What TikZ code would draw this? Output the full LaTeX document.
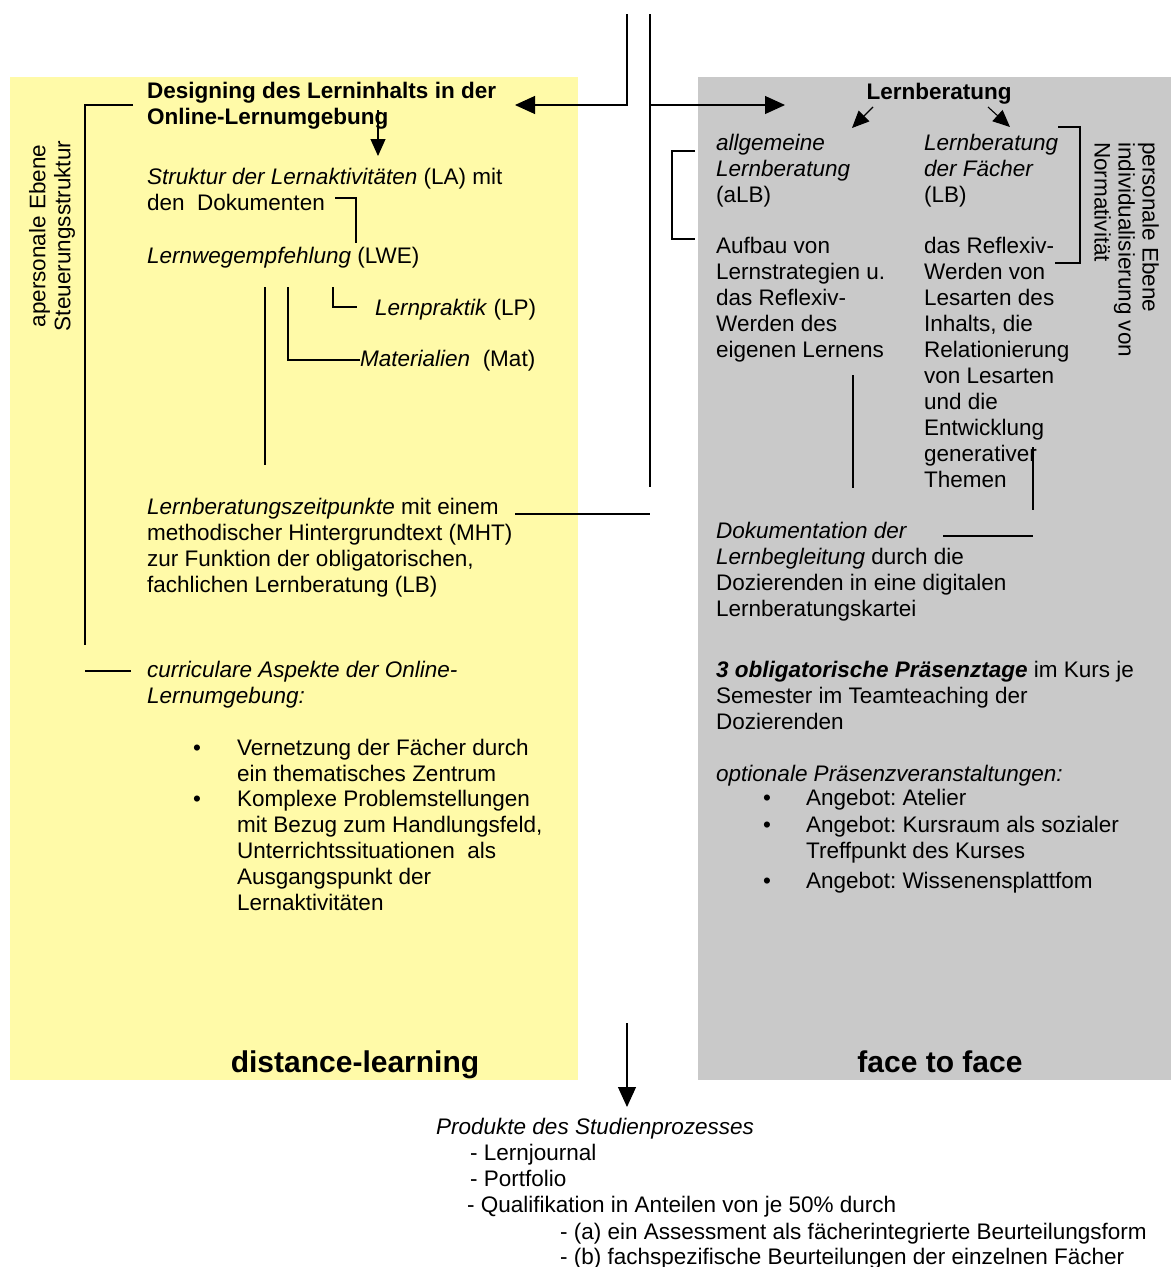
\documentclass[tikz,border=0pt]{standalone}
\usepackage{fontspec}
\setmainfont{Liberation Sans}
\usetikzlibrary{arrows.meta}
\definecolor{dlyellow}{RGB}{255,250,168}
\definecolor{ffgray}{RGB}{201,201,201}
% a left-aligned block of lines whose baseline is that of its first line
\newcommand{\txtblock}[1]{\begin{tabular}[t]{@{}l@{}}#1\end{tabular}}
\frenchspacing
\begin{document}
\begin{tikzpicture}[x=1pt,y=-1pt,
  txt/.style={anchor=base west, inner sep=0pt,
              font=\fontsize{22.5}{26}\selectfont},
  ctr/.style={anchor=base, inner sep=0pt, font=\fontsize{22.5}{26}\selectfont\bfseries},
  big/.style={anchor=base, inner sep=0pt, font=\fontsize{30}{34}\selectfont\bfseries},
  bul/.style={anchor=base, inner sep=0pt, font=\fontsize{22.5}{26}\selectfont},
  ln/.style={line width=1.1pt},
  arr/.style={ln, -{Triangle[length=20pt,width=18pt]}},
  sarr/.style={ln, -{Triangle[length=17pt,width=15pt]}}]
\useasboundingbox (0,0) rectangle (1171,1267);
\fill[white] (0,0) rectangle (1171,1267);

% the two working areas
\fill[dlyellow] (10,77) rectangle (578,1080);
\fill[ffgray] (698,77) rectangle (1171,1080);

% ---------------- distance-learning ----------------
\node[txt, font=\fontsize{22.5}{26}\selectfont\bfseries] (design) at (147,98)
  {\txtblock{Designing des Lerninhalts in der\\Online-Lernumgebung}};
\node[txt] (struk) at (147,184)
  {\txtblock{\textit{Struktur der Lernaktivitäten} (LA) mit\\den~~Dokumenten}};
\node[txt] (lwe) at (147,263) {\textit{Lernwegempfehlung} (LWE)};
\node[txt] (lp) at (375,315) {\textit{Lernpraktik} (LP)};
\node[txt] (mat) at (360,366) {\textit{Materialien}~~(Mat)};
\node[txt] (lbz) at (147,514)
  {\txtblock{\textit{Lernberatungszeitpunkte} mit einem\\methodischer Hintergrundtext (MHT)\\zur Funktion der obligatorischen,\\fachlichen Lernberatung (LB)}};
\node[txt] (curr) at (147,677)
  {\txtblock{\textit{curriculare Aspekte der Online-}\\\textit{Lernumgebung:}}};
\node[bul] (bA) at (197,755) {\textbullet};
\node[txt] (vern) at (237,755) {\txtblock{Vernetzung der Fächer durch\\ein thematisches Zentrum}};
\node[bul] (bB) at (197,806) {\textbullet};
\node[txt] (kompl) at (237,806)
  {\txtblock{Komplexe Problemstellungen\\mit Bezug zum Handlungsfeld,\\Unterrichtssituationen~~als\\Ausgangspunkt der\\Lernaktivitäten}};
\node[big] (dl) at (355,1072) {distance-learning};

\node[rotate=90, align=center, inner sep=0pt,
      font=\fontsize{22.5}{25}\selectfont] (aper) at (52,236)
  {apersonale Ebene\\Steuerungsstruktur};

% ---------------- face to face ----------------
\node[ctr] (lb) at (939,99) {Lernberatung};
\node[txt] (alb) at (716,150) {\txtblock{\textit{allgemeine}\\\textit{Lernberatung}\\(aLB)}};
\node[txt] (aufbau) at (716,253)
  {\txtblock{Aufbau von\\Lernstrategien u.\\das Reflexiv-\\Werden des\\eigenen Lernens}};
\node[txt] (lbf) at (924,150) {\txtblock{\textit{Lernberatung}\\\textit{der Fächer}\\(LB)}};
\node[txt] (refl) at (924,253)
  {\txtblock{das Reflexiv-\\Werden von\\Lesarten des\\Inhalts, die\\Relationierung\\von Lesarten\\und die\\Entwicklung\\generativer\\Themen}};
\node[rotate=-90, anchor=north west, align=left, inner sep=0pt,
      font=\fontsize{22.5}{24}\selectfont] (pers) at (1159,142)
  {personale Ebene\\individualisierung von\\Normativität};
\node[txt] (doku) at (716,538)
  {\txtblock{\textit{Dokumentation der}\\\textit{Lernbegleitung} durch die\\Dozierenden in eine digitalen\\Lernberatungskartei}};
\node[txt] (prae) at (716,677)
  {\txtblock{\textbf{\textit{3 obligatorische Präsenztage}} im Kurs je\\Semester im Teamteaching der\\Dozierenden}};
\node[txt] (opt) at (716,781) {\textit{optionale Präsenzveranstaltungen:}};
\node[bul] (bC) at (767,805) {\textbullet};
\node[txt] (at) at (806,805) {Angebot: Atelier};
\node[bul] (bD) at (767,832) {\textbullet};
\node[txt] (kurs) at (806,832) {\txtblock{Angebot: Kursraum als sozialer\\Treffpunkt des Kurses}};
\node[bul] (bE) at (767,888) {\textbullet};
\node[txt] (wiss) at (806,888) {Angebot: Wissenensplattfom};
\node[big] (ftf) at (940,1072) {face to face};

% ---------------- products ----------------
\node[txt] (prod) at (436,1134) {\textit{Produkte des Studienprozesses}};
\node[txt] (journ) at (470,1160) {- Lernjournal};
\node[txt] (port) at (470,1186) {- Portfolio};
\node[txt] (qual) at (467,1212) {- Qualifikation in Anteilen von je 50\% durch};
\node[txt] (qa) at (560,1239) {- (a) ein Assessment als fächerintegrierte Beurteilungsform};
\node[txt] (qb) at (560,1264) {- (b) fachspezifische Beurteilungen der einzelnen Fächer};

% ---------------- connectors ----------------
\coordinate (topL) at (627,14);
\coordinate (topR) at (650,14);
\coordinate (kneeL) at (627,105);
\coordinate (kneeR) at (650,105);
\coordinate (trunkEnd) at (650,487);
\coordinate (designTip) at (515,105);
\coordinate (lbTip) at (785,105);
\draw[arr] (topL) -- (kneeL) -- (designTip);
\draw[ln] (topR) -- (trunkEnd);
\draw[arr] (kneeR) -- (lbTip);
\draw[ln] (515,514) -- (650,514);

% left steering bracket
\draw[ln] (133,105) -- (85,105) -- (85,645);
\draw[ln] (85,671) -- (131,671);

% design -> Struktur
\draw[sarr] (378,110) -- (378,156);
% Dokumenten -> LWE
\draw[ln] (335,198) -- (356,198) -- (356,243);
% LWE branches
\draw[ln] (265,287) -- (265,465);
\draw[ln] (288,287) -- (288,360) -- (360,360);
\draw[ln] (333,287) -- (333,307) -- (357,307);

% Lernberatung split
\draw[sarr] (873,107) -- (852,128);
\draw[sarr] (988,107) -- (1010,127);
% brackets of the two columns
\draw[ln] (695,151) -- (672,151) -- (672,239) -- (695,239);
\draw[ln] (1058,127) -- (1080,127) -- (1080,263) -- (1055,263);
% links to the documentation
\draw[ln] (853,375) -- (853,488);
\draw[ln] (1033,447) -- (1033,510);
\draw[ln] (943,536) -- (1033,536);

% output arrow
\draw[arr] (627,1023) -- (627,1107);
\end{tikzpicture}
\end{document}
